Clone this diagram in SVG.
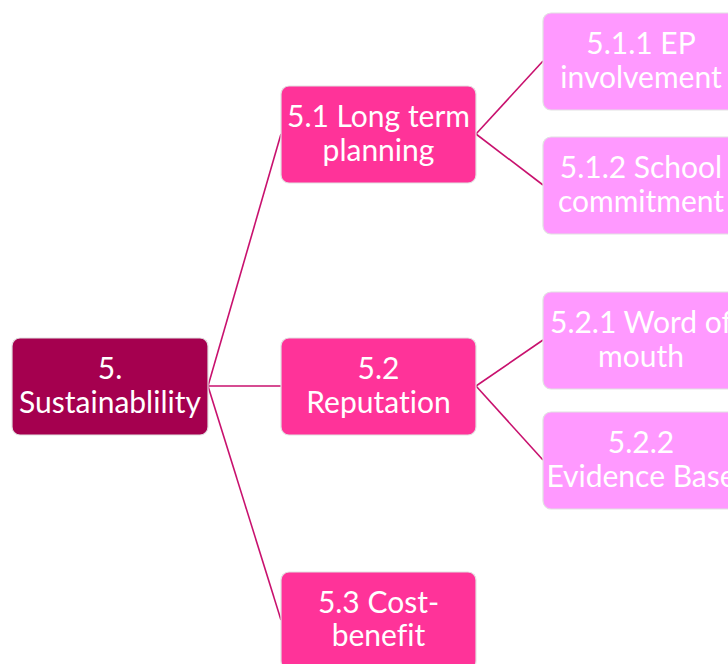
<svg xmlns="http://www.w3.org/2000/svg" width="728" height="664" viewBox="0 0 728 664">
<style>
.box{stroke:#e2e2e2;stroke-width:1.2}
.l0{fill:#A5004F}
.l1{fill:#FF3399}
.l2{fill:#FF99FF}
text{font-family:Lato,"Open Sans","Liberation Sans",sans-serif;font-size:30px;fill:#ffffff;text-anchor:middle;font-variant-ligatures:none}
.conn line{stroke:#C8116E;stroke-width:1.6}
</style>
<rect width="728" height="664" fill="#ffffff"/>
<g class="conn" id="connectors">
<line x1="208" y1="386" x2="281" y2="134"/>
<line x1="208" y1="386" x2="281" y2="386"/>
<line x1="208" y1="386" x2="281" y2="620"/>
<line x1="476" y1="134" x2="543" y2="61"/>
<line x1="476" y1="134" x2="543" y2="185"/>
<line x1="476" y1="386" x2="543" y2="340"/>
<line x1="476" y1="386" x2="543" y2="460"/>
</g>
<g id="n5">
<rect class="box l0" x="12" y="338" width="196" height="97" rx="8"/>
<text x="110" y="379">5.</text>
<text x="110" y="413">Sustainablility</text>
</g>
<g id="n51">
<rect class="box l1" x="281" y="86" width="195" height="97" rx="8"/>
<text x="378.5" y="127">5.1 Long term</text>
<text x="378.5" y="161">planning</text>
</g>
<g id="n52">
<rect class="box l1" x="281" y="338" width="195" height="97" rx="8"/>
<text x="378.5" y="379">5.2</text>
<text x="378.5" y="413">Reputation</text>
</g>
<g id="n53">
<rect class="box l1" x="281" y="572" width="195" height="97" rx="8"/>
<text x="378.5" y="613">5.3 Cost-</text>
<text x="378.5" y="646">benefit</text>
</g>
<g id="n511">
<rect class="box l2" x="543" y="13" width="196" height="97" rx="8"/>
<text x="641" y="54">5.1.1 EP</text>
<text x="641" y="88">involvement</text>
</g>
<g id="n512">
<rect class="box l2" x="543" y="137" width="196" height="97" rx="8"/>
<text x="641" y="178">5.1.2 School</text>
<text x="641" y="212">commitment</text>
</g>
<g id="n521">
<rect class="box l2" x="543" y="292" width="196" height="97" rx="8"/>
<text x="641" y="333">5.2.1 Word of</text>
<text x="641" y="367">mouth</text>
</g>
<g id="n522">
<rect class="box l2" x="543" y="412" width="196" height="97" rx="8"/>
<text x="641" y="453">5.2.2</text>
<text x="641" y="487">Evidence Base</text>
</g>
</svg>
